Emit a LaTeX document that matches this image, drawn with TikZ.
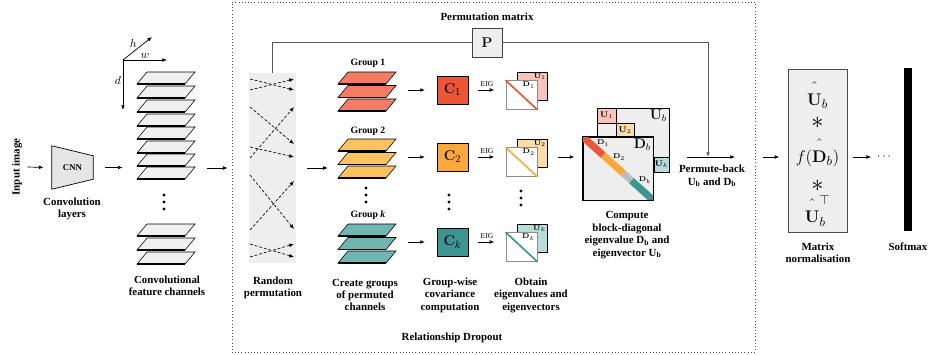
\documentclass[tikz,border=0pt]{standalone}
\usepackage{amsmath, amssymb}
\usepackage[no-math]{fontspec}
\setmainfont{Liberation Serif}
\usepackage{tikz}
\usetikzlibrary{positioning, arrows.meta, calc, backgrounds}

\definecolor{redA}{HTML}{F47C64}
\definecolor{redB}{HTML}{EE5535}
\definecolor{redC}{HTML}{F9C3B9}
\definecolor{yelA}{HTML}{FBC25F}
\definecolor{yelB}{HTML}{F9A93B}
\definecolor{yelC}{HTML}{FDDCA5}
\definecolor{tealA}{HTML}{6FB5B2}
\definecolor{tealB}{HTML}{3B9691}
\definecolor{tealC}{HTML}{B7DCDA}
\definecolor{boxgray}{HTML}{EEEEEE}

% one feature channel: bottom-left x, bottom y, fill
\newcommand{\chplane}[3]{%
    \filldraw[fill=#3, draw=black, line width=0.5pt] (#1,#2) -- ++(48,0) -- ++(10,-12) -- ++(-48,0) -- cycle;
    \draw[line width=1.2pt] (#1,#2) -- ++(48,0);
}
% three stacked dots
\newcommand{\dotcol}[2]{%
    \foreach \k in {0,7,14} \fill (#1,#2+\k) circle (1.4pt);
}
% hat set clear above its letter
\newcommand{\highhat}[1]{\hat{\rule{0pt}{1.05em}#1}}

\begin{document}
\begin{tikzpicture}[
    x=0.03cm, y=-0.03cm,
    >={Latex[length=4pt, width=3.2pt]},
    flow/.style={->, line width=0.6pt},
    caption/.style={align=center, font=\bfseries\fontsize{9.3}{10.6}\selectfont},
    grplbl/.style={font=\bfseries\fontsize{8.3}{9}\selectfont},
    covbox/.style={draw, line width=0.6pt, minimum width=0.93cm, minimum height=0.84cm, inner sep=0pt, font=\fontsize{13}{14}\selectfont},
    evec/.style={draw, line width=0.6pt, minimum width=0.9cm, minimum height=0.84cm, inner sep=0pt},
    eval/.style={draw=black!45, fill=white, line width=0.8pt, minimum width=0.93cm, minimum height=0.86cm, inner sep=0pt},
    tiny/.style={inner sep=1.2pt, font=\fontsize{6.5}{7}\selectfont},
    stack/.style={minimum width=1.77cm, minimum height=1.14cm, inner sep=0pt},
    blk/.style={draw, line width=0.6pt, inner sep=0pt, font=\fontsize{7}{8}\selectfont},
    term/.style={inner sep=0pt, anchor=base, font=\fontsize{15}{16}\selectfont},
    star/.style={inner sep=0pt, font=\fontsize{22}{22}\selectfont},
    pline/.style={draw=black!65, line width=0.8pt}
]
\useasboundingbox (0,0) rectangle (928,354);

% Relationship Dropout frame
\node[draw=black!70, dotted, line width=0.7pt, minimum width=15.69cm, minimum height=10.5cm, inner sep=0pt] (drop) at (493.5,177) {};
\node[caption] (droplbl) at (452,338) {Relationship Dropout};

% input and CNN
\node[caption, rotate=90] (input) at (17,167) {Input image};
\node[minimum width=1.23cm, minimum height=1.29cm, inner sep=0pt, font=\bfseries\fontsize{7.5}{8}\selectfont] (cnn) at (72.5,167.5) {CNN};
\begin{pgfonlayer}{background}
    \filldraw[fill=black!10, line width=0.6pt] (cnn.north west) -- ([yshift=-0.3cm]cnn.north east) -- ([yshift=0.3cm]cnn.south east) -- (cnn.south west) -- cycle;
\end{pgfonlayer}
\node[caption] (cnnlbl) at (72,209) {Convolution\\layers};

% feature channels with axes
\coordinate (ax) at (123,60);
\coordinate (axw) at (167,60);
\coordinate (axh) at (152,37);
\coordinate (axd) at (123,110);
\draw[->, line width=0.6pt] (ax) -- node[above, inner sep=1pt] (wlbl) {$w$} (axw);
\draw[->, line width=0.6pt] (ax) -- node[above left, inner sep=0.5pt] (hlbl) {$h$} (axh);
\draw[->, line width=0.6pt] (ax) -- node[left, pos=0.4, inner sep=1.5pt] (dlbl) {$d$} (axd);

\node[minimum width=1.74cm, minimum height=5.76cm, inner sep=0pt] (feat) at (166,168) {};
\foreach \yb in {84,98,112,126,139,153,166,179} \chplane{137}{\yb}{black!6};
\dotcol{164}{195}
\foreach \yb in {236,250,264} \chplane{137}{\yb}{black!6};
\node[caption] (featlbl) at (167,286) {Convolutional\\feature channels};

% random permutation
\node[fill=boxgray, minimum width=1.41cm, minimum height=5.7cm, inner sep=0pt] (perm) at (272.5,168) {};
\foreach \ya/\yb in {79/90, 90/79, 107/144, 158/107, 147/157, 175/229, 230/181, 244/257, 257/244}
    \draw[->, dash pattern=on 2.5pt off 1.6pt, line width=0.55pt] (250,\ya) -- (294,\yb);
\node[caption] (permlbl) at (273,288) {Random\\permutation};

% groups of permuted channels
\node[grplbl] (g1l) at (368,63) {Group 1};
\node[stack] (g1) at (367.5,92) {};
\foreach \yb in {84,97.5,111} \chplane{338}{\yb}{redA};
\node[grplbl] (g2l) at (368,131) {Group 2};
\node[stack] (g2) at (367.5,159) {};
\foreach \yb in {151,164.5,178} \chplane{338}{\yb}{yelA};
\dotcol{366}{188}
\node[grplbl] (gkl) at (368,215) {Group \textit{k}};
\node[stack] (gk) at (367.5,244) {};
\foreach \yb in {236,249.5,263} \chplane{338}{\yb}{tealA};
\node[caption] (grplbl) at (365,295) {Create groups\\of permuted\\channels};

% group-wise covariance
\node[covbox, fill=redB] (c1) at (452.5,90) {$\mathbf{C}_1$};
\node[covbox, fill=yelB] (c2) at (452.5,157) {$\mathbf{C}_2$};
\node[covbox, fill=tealB] (ck) at (452.5,242) {$\mathbf{C}_k$};
\dotcol{449}{195}
\node[caption] (covlbl) at (450,295) {Group-wise\\covariance\\computation};

% eigenvalues and eigenvectors
\node[evec, fill=redC] (u1) at (532,86) {};
\node[tiny, anchor=north east] (u1l) at (u1.north east) {$\mathbf{U}_1$};
\node[eval] (d1) at (521.5,95) {};
\draw[redB, line width=1.4pt] (d1.north west) -- (d1.south east);
\node[tiny, anchor=north east] (d1l) at ([xshift=-1pt]d1.north east) {$\mathbf{D}_1$};

\node[evec, fill=yelC] (u2) at (532,153) {};
\node[tiny, anchor=north east] (u2l) at (u2.north east) {$\mathbf{U}_2$};
\node[eval] (d2) at (521.5,162) {};
\draw[yelB, line width=1.4pt] (d2.north west) -- (d2.south east);
\node[tiny, anchor=north east] (d2l) at ([xshift=-1pt]d2.north east) {$\mathbf{D}_2$};

\dotcol{521}{191}

\node[evec, fill=tealC] (uk) at (532,238) {};
\node[tiny, anchor=north east] (ukl) at (uk.north east) {$\mathbf{U}_k$};
\node[eval] (dk) at (521.5,247) {};
\draw[tealB, line width=1.4pt] (dk.north west) -- (dk.south east);
\node[tiny, anchor=north east] (dkl) at ([xshift=-1pt]dk.north east) {$\mathbf{D}_k$};
\node[caption] (eiglbl) at (531,295) {Obtain\\eigenvalues and\\eigenvectors};

% block-diagonal U_b and D_b
\node[draw, fill=boxgray, line width=0.6pt, minimum width=2.16cm, minimum height=1.92cm, inner sep=0pt] (ub) at (633,140) {};
\node[blk, fill=redC, minimum width=0.57cm, minimum height=0.45cm] (ub1) at (606.5,115.5) {$\mathbf{U}_1$};
\node[blk, fill=yelC, minimum width=0.54cm, minimum height=0.45cm] (ub2) at (625,130.5) {$\mathbf{U}_2$};
\node[blk, fill=tealC, minimum width=0.45cm, minimum height=0.45cm] (ubk) at (661.5,164.5) {$\mathbf{U}_k$};
\node[anchor=north east, inner sep=2pt, font=\fontsize{12}{13}\selectfont] (ubl) at (ub.north east) {$\mathbf{U}_b$};
\node[draw, fill=boxgray, line width=0.6pt, minimum width=2.1cm, minimum height=1.89cm, inner sep=0pt] (db) at (618,168.5) {};
\begin{scope}
    \clip (db.north west) rectangle (db.south east);
    \draw[line width=6pt, redB] (db.north west) -- ($(db.north west)!0.29!(db.south east)$);
    \draw[line width=6pt, yelB] ($(db.north west)!0.29!(db.south east)$) -- ($(db.north west)!0.57!(db.south east)$);
    \draw[line width=6pt, black!25] ($(db.north west)!0.57!(db.south east)$) -- ($(db.north west)!0.69!(db.south east)$);
    \draw[line width=6pt, tealB] ($(db.north west)!0.69!(db.south east)$) -- (db.south east);
\end{scope}
\draw[line width=0.6pt] (db.north west) rectangle (db.south east);
\foreach \k in {-2.2,0,2.2} \fill[black!55] ($(db.north west)!0.63!(db.south east) + (\k,\k)$) circle (0.35pt);
\node[anchor=north east, inner sep=2pt, font=\fontsize{12}{13}\selectfont] (dbl) at (db.north east) {$\mathbf{D}_b$};
\node[tiny] (db1) at (603,143) {$\mathbf{D}_1$};
\node[tiny] (db2) at (619,157) {$\mathbf{D}_2$};
\node[tiny] (dbk) at (645,180) {$\mathbf{D}_k$};
\node[caption] (blklbl) at (627,235) {Compute\\block-diagonal\\eigenvalue D\textsubscript{b} and\\eigenvector U\textsubscript{b}};

% permutation matrix and permute-back
\node[draw=black!75, fill=boxgray, line width=0.8pt, minimum width=0.9cm, minimum height=0.87cm, inner sep=0pt, font=\fontsize{13}{14}\selectfont] (pmat) at (487,42.5) {$\mathbf{P}$};
\node[caption] (pmatl) at (487,17) {Permutation matrix};
\coordinate (pbin) at (687,157);
\coordinate (pbjoin) at (708,157);
\coordinate (pbout) at (735,157);
\draw[pline] (perm.north) |- (pmat.west);
\draw[pline, ->] (pmat.east) -| (pbjoin);
\draw[flow] (pbin) -- (pbout);
\node[caption] (pblbl) at (712,176) {Permute-back\\U\textsubscript{b} and D\textsubscript{b}};

% matrix normalisation and softmax
\node[draw=black!70, fill=boxgray, line width=0.8pt, minimum width=1.77cm, minimum height=4.89cm, inner sep=0pt] (norm) at (817.5,150.5) {};
\node[term] (nu1) at (817.5,105) {$\highhat{\mathbf{U}}_b$};
\node[star] (nst1) at (817.5,123) {$*$};
\node[term] (nfd) at (817.5,162) {$f(\highhat{\mathbf{D}}_b)$};
\node[star] (nst2) at (817.5,186) {$*$};
\node[term] (nu2) at (817.5,222) {$\highhat{\mathbf{U}}_b^{\top}$};
\node[caption] (normlbl) at (818,253) {Matrix\\normalisation};
\node[inner sep=0pt, font=\fontsize{10}{12}\selectfont] (dots) at (885,157) {$\cdots$};
\node[fill=black, minimum width=0.24cm, minimum height=4.89cm, inner sep=0pt] (smax) at (908,149.5) {};
\node[caption] (smaxlbl) at (908,247) {Softmax};

% main flow
\draw[flow, shorten <=1pt, shorten >=7pt] (input.south) -- (cnn.west);
\draw[flow, shorten <=10pt, shorten >=12pt] (cnn.east) -- (cnn.east -| feat.west);
\draw[flow, shorten <=10pt, shorten >=18pt] (feat.east) -- (perm.west);
\draw[flow, shorten <=9pt, shorten >=8.5pt] (perm.east) -- (perm.east -| g2.west);
\draw[flow, shorten <=9pt, shorten >=10pt] (c1 -| g1.east) -- (c1.west);
\draw[flow, shorten <=9pt, shorten >=10pt] (c2 -| g2.east) -- (c2.west);
\draw[flow, shorten <=9pt, shorten >=10pt] (ck -| gk.east) -- (ck.west);
\draw[flow, shorten <=8.5pt, shorten >=9.5pt] (c1.east) -- node[above=2.5pt, inner sep=0pt, font=\fontsize{6.5}{7}\selectfont] (eig1) {EIG} (c1.east -| d1.west);
\draw[flow, shorten <=8.5pt, shorten >=9.5pt] (c2.east) -- node[above=2.5pt, inner sep=0pt, font=\fontsize{6.5}{7}\selectfont] (eig2) {EIG} (c2.east -| d2.west);
\draw[flow, shorten <=8.5pt, shorten >=9.5pt] (ck.east) -- node[above=2.5pt, inner sep=0pt, font=\fontsize{6.5}{7}\selectfont] (eigk) {EIG} (ck.east -| dk.west);
\draw[flow, shorten <=9pt, shorten >=7pt] (c2 -| u2.east) -- (c2 -| db.west);
\draw[flow, shorten <=24pt, shorten >=7pt] (pbout) -- (pbout -| norm.west);
\draw[flow, shorten <=5pt, shorten >=5pt] (pbout -| norm.east) -- (dots.west);
\end{tikzpicture}
\end{document}
